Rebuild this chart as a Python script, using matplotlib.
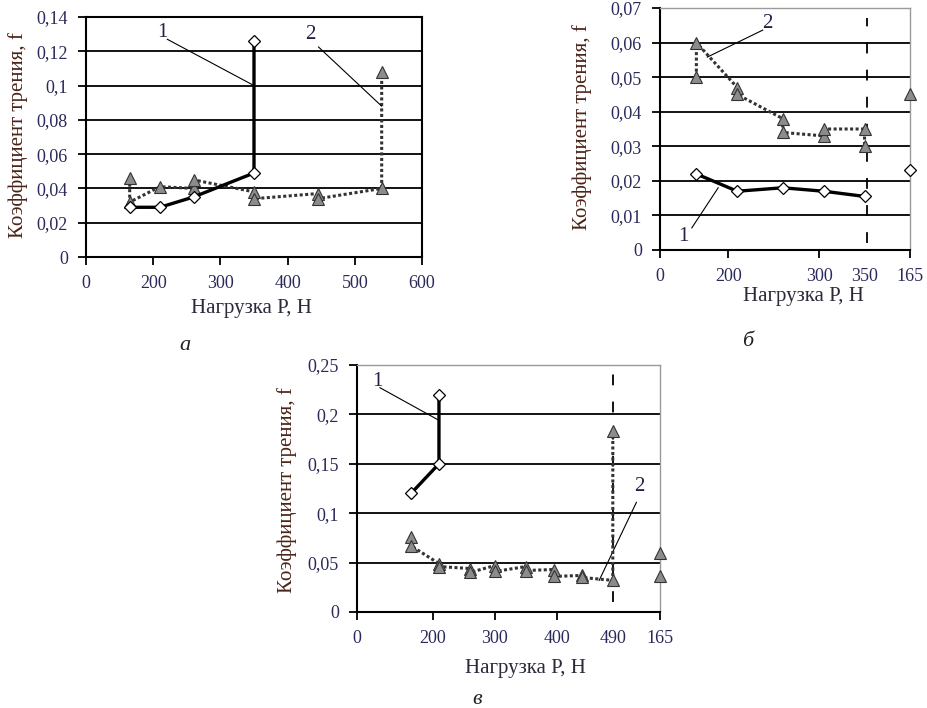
import matplotlib
matplotlib.use("Agg")
import matplotlib.pyplot as plt

plt.rcParams['font.family'] = ['Liberation Serif', 'DejaVu Serif']

# panel a
a_load1 = [165, 210, 260, 350, 350]
a_f1 = [0.029, 0.029, 0.035, 0.049, 0.126]
a_load2 = [165, 165, 210, 260, 260, 350, 350, 445, 445, 540, 540]
a_f2 = [0.046, 0.032, 0.041, 0.040, 0.045, 0.038, 0.034, 0.037, 0.034, 0.040, 0.108]
a_xticks = [100, 200, 300, 400, 500, 600]
a_xlabels = ["0", "200", "300", "400", "500", "600"]
a_yticks = [0, 0.02, 0.04, 0.06, 0.08, 0.1, 0.12, 0.14]
a_ylabels = ["0", "0,02", "0,04", "0,06", "0,08", "0,1", "0,12", "0,14"]

# panel b (last axis position = unloading back to 165 N)
b_load1 = [165, 210, 260, 305, 350]
b_f1 = [0.022, 0.017, 0.018, 0.017, 0.0155]
b_load2 = [165, 165, 210, 210, 260, 260, 305, 305, 350, 350]
b_f2 = [0.050, 0.060, 0.047, 0.045, 0.038, 0.034, 0.033, 0.035, 0.035, 0.030]
b_unload_pos = 400
b_unload_f1 = [0.023]
b_unload_f2 = [0.045]
b_xticks = [125, 200, 300, 350, 400]
b_xlabels = ["0", "200", "300", "350", "165"]
b_yticks = [0, 0.01, 0.02, 0.03, 0.04, 0.05, 0.06, 0.07]
b_ylabels = ["0", "0,01", "0,02", "0,03", "0,04", "0,05", "0,06", "0,07"]

# panel c
c_load1 = [165, 210, 210]
c_f1 = [0.12, 0.15, 0.22]
c_load2 = [165, 165, 210, 210, 260, 260, 300, 300, 350, 350, 395, 395, 440, 440, 490, 490]
c_f2 = [0.076, 0.067, 0.049, 0.046, 0.044, 0.040, 0.047, 0.041, 0.046, 0.042,
        0.043, 0.036, 0.037, 0.035, 0.032, 0.183]
c_unload_pos = 566
c_unload_f2 = [0.060, 0.036]
c_xticks = [78, 200, 300, 400, 490, 566]
c_xlabels = ["0", "200", "300", "400", "490", "165"]
c_yticks = [0, 0.05, 0.1, 0.15, 0.2, 0.25]
c_ylabels = ["0", "0,05", "0,1", "0,15", "0,2", "0,25"]

W, H = 928, 708
TICK_C = '#2a2a5a'
LAB_C = '#4a2418'
NUM_C = '#20204a'


def px(x, y):
    return x / W, 1 - y / H


def box(l, t, r, b):
    return [l / W, 1 - b / H, (r - l) / W, (b - t) / H]


def s1(ax, x, y):
    ax.plot(x, y, color='black', lw=2.4, marker='D', ms=6.5, mfc='white',
            mec='black', mew=0.9, zorder=4)


def s2(ax, x, y):
    ax.plot(x, y, color='#333333', lw=2.2, ls=(0, (1, 0.8)), marker='^', ms=8,
            mfc='#8c8c8c', mec='#333333', mew=0.8, zorder=3)


def style(ax, xt, xl, yt, yl, light_frame, no_tick=None):
    ax.set_xticks(xt)
    ax.set_xticklabels(xl)
    ax.set_yticks(yt)
    ax.set_yticklabels(yl)
    ax.set_xlim(xt[0], xt[-1])
    ax.set_ylim(yt[0], yt[-1])
    ax.tick_params(direction='out', length=6, width=1.3, labelsize=13,
                   labelcolor=TICK_C, pad=7)
    ax.yaxis.grid(True, color='black', lw=1.3)
    ax.set_axisbelow(True)
    for side in ['left', 'bottom']:
        ax.spines[side].set_linewidth(1.5)
    for side in ['top', 'right']:
        if light_frame:
            ax.spines[side].set_color('#9a9a9a')
            ax.spines[side].set_linewidth(1.0)
        else:
            ax.spines[side].set_linewidth(1.5)
    if light_frame:
        ax.yaxis.get_gridlines()[-1].set_visible(False)
    if no_tick is not None:
        ax.xaxis.get_major_ticks()[no_tick].tick1line.set_visible(False)


fig = plt.figure(figsize=(W / 100, H / 100), dpi=100)

# ---- a ----
ax = fig.add_axes(box(86, 17, 422, 257))
style(ax, a_xticks, a_xlabels, a_yticks, a_ylabels, False)
s2(ax, a_load2, a_f2)
s1(ax, a_load1, a_f1)
ax.plot([221, 350], [0.127, 0.100], color='black', lw=0.8, zorder=5)
ax.plot([446, 540], [0.1225, 0.088], color='black', lw=0.8, zorder=5)
ax.text(213, 0.131, "1", fontsize=15, color=NUM_C, ha='center', va='center')
ax.text(434, 0.130, "2", fontsize=15, color=NUM_C, ha='center', va='center')

# ---- b ----
ax = fig.add_axes(box(660, 8, 910, 250))
style(ax, b_xticks, b_xlabels, b_yticks, b_ylabels, True, no_tick=3)
ax.axvline(353, ymin=0.03, ymax=0.96, color='black', lw=1.3, ls=(0, (6, 9)), zorder=2)
s2(ax, b_load2, b_f2)
s1(ax, b_load1, b_f1)
ax.plot([b_unload_pos], b_unload_f2, ls='none', marker='^', ms=8, mfc='#8c8c8c',
        mec='#333333', mew=0.8, zorder=5, clip_on=False)
ax.plot([b_unload_pos], b_unload_f1, ls='none', marker='D', ms=6.5, mfc='white',
        mec='black', mew=0.9, zorder=5, clip_on=False)
ax.plot([238, 177], [0.0636, 0.0558], color='black', lw=0.8, zorder=5)
ax.plot([160, 189], [0.0064, 0.018], color='black', lw=0.8, zorder=5)
ax.text(243, 0.0655, "2", fontsize=15, color=NUM_C, ha='center', va='center')
ax.text(151, 0.0040, "1", fontsize=15, color=NUM_C, ha='center', va='center')

# ---- c ----
ax = fig.add_axes(box(357, 365, 660, 612))
style(ax, c_xticks, c_xlabels, c_yticks, c_ylabels, True, no_tick=4)
ax.axvline(490, ymin=0.04, ymax=0.98, color='black', lw=1.3, ls=(0, (6, 9)), zorder=2)
s2(ax, c_load2, c_f2)
s1(ax, c_load1, c_f1)
ax.plot([c_unload_pos] * len(c_unload_f2), c_unload_f2, ls='none', marker='^', ms=8,
        mfc='#8c8c8c', mec='#333333', mew=0.8, zorder=5, clip_on=False)
ax.plot([115, 210], [0.227, 0.194], color='black', lw=0.8, zorder=5)
ax.plot([528, 468], [0.111, 0.032], color='black', lw=0.8, zorder=2)
ax.text(111, 0.233, "1", fontsize=15, color=NUM_C, ha='center', va='center')
ax.text(532, 0.127, "2", fontsize=15, color=NUM_C, ha='center', va='center')

# axis titles and captions
ylab = "Коэффициент трения, f"
xlab = "Нагрузка Р, Н"
for (x, y) in [(18, 135), (582, 127), (287, 490)]:
    fig.text(*px(x, y), ylab, rotation=90, fontsize=15, color=LAB_C,
             ha='center', va='center')
for (x, y) in [(251, 308), (803, 297), (525, 668)]:
    fig.text(*px(x, y), xlab, fontsize=15, color='#2a2a3a', ha='center', va='center')
for (x, y, s) in [(185, 345, "а"), (748, 341, "б"), (477, 700, "в")]:
    fig.text(*px(x, y), s, fontsize=16, style='italic', color='#222222',
             ha='center', va='center')

fig.savefig("out.png", dpi=100)
